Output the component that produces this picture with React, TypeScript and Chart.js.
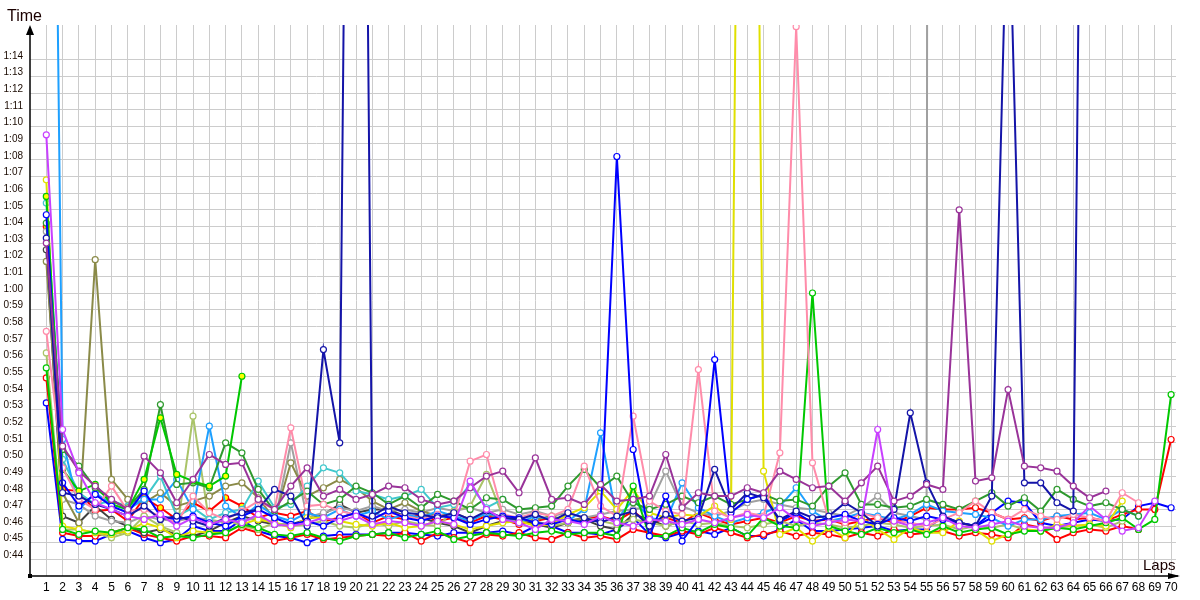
import React, { useEffect, useRef } from 'react';
import { Chart, registerables } from 'chart.js';

Chart.register(...registerables);

const LAPS = [1, 2, 3, 4, 5, 6, 7, 8, 9, 10, 11, 12, 13, 14, 15, 16, 17, 18, 19, 20, 21, 22, 23, 24, 25, 26, 27, 28, 29, 30, 31, 32, 33, 34, 35, 36, 37, 38, 39, 40, 41, 42, 43, 44, 45, 46, 47, 48, 49, 50, 51, 52, 53, 54, 55, 56, 57, 58, 59, 60, 61, 62, 63, 64, 65, 66, 67, 68, 69, 70];
const Y_TICKS = [44, 45, 46, 47, 48, 49, 50, 51, 52, 53, 54, 55, 56, 57, 58, 59, 60, 61, 62, 63, 64, 65, 66, 67, 68, 69, 70, 71, 72, 73, 74];

// lap times in seconds, lap 1 onwards
const RED_A = [64.0, 48.2, 48.1, 46.9, 47.0, 46.3, 47.7, 47.1, 46.4, 47.4,
  46.9, 47.7, 47.2, 46.5, 46.8, 46.6, 46.9, 46.3, 46.5, 46.8,
  46.2, 46.6, 46.4, 46.7, 46.3, 46.5, 46.2, 46.6, 46.4, 46.1,
  46.3, 46.5, 46.2, 46.4, 46.6, 46.3, 46.9, 46.1, 46.5, 46.2,
  46.8, 46.4, 46.1, 46.3, 46.5, 46.2, 46.6, 46.3, 46.4, 46.1,
  46.3, 46.5, 46.2, 46.6, 47.1, 47.0, 47.0, 47.1, 46.8, 46.4,
  46.5, 46.3, 46.6, 46.4, 46.5, 46.3, 46.7, 47.0, 47.0, 51.2];
const RED_B = [54.9, 45.6, 45.4, 45.4, 45.6, 45.9, 45.5, 45.3, 45.1, 45.4,
  45.4, 45.3, 45.9, 45.6, 45.1, 45.3, 45.5, 45.2, 45.3, 45.4,
  45.5, 45.4, 45.6, 45.1, 45.6, 45.3, 45.0, 45.5, 45.4, 45.6,
  45.3, 45.2, 45.6, 45.3, 45.4, 45.2, 45.8, 45.6, 45.4, 45.7,
  45.5, 45.9, 45.6, 45.3, 45.5, 45.7, 45.4, 45.6, 45.5, 45.3,
  45.6, 45.4, 45.8, 45.5, 45.6, 45.7, 45.4, 45.6, 45.5, 45.3,
  46.1, 45.9, 45.2, 45.6, 45.8, 45.7, 46.0, 45.8];
const GREEN_A = [65.8, 49.4, 48.1, 48.5, 47.3, 47.0, 48.8, 52.5, 49.1, 48.7, 48.4, 49.0, 55.0];
const GREEN_B = [55.5, 45.8, 45.5, 45.7, 45.6, 45.9, 45.8, 45.3, 45.4, 45.3,
  45.5, 45.6, 46.1, 45.9, 45.5, 45.4, 45.6, 45.3, 45.1, 45.4,
  45.5, 45.6, 45.3, 45.5, 45.7, 45.2, 45.4, 45.6, 45.5, 45.4,
  45.6, 45.7, 45.5, 45.6, 45.6, 45.4, 48.4, 45.4, 45.4, 45.9,
  45.6, 46.1, 45.9, 45.4, 46.5, 46.0, 45.9, 60.0, 46.0, 45.7,
  45.5, 45.9, 45.6, 45.8, 45.5, 46.0, 45.6, 45.8, 45.9, 45.5,
  45.7, 45.7, 45.9, 45.8, 46.0, 46.2, 46.5, 45.8, 46.4, 53.9];
const DARK_GREEN = [64.2, 50.6, 49.6, 48.3, 47.5, 47.1, 48.2, 53.3, 48.5, 48.6,
  48.3, 51.0, 50.4, 48.2, 46.9, 47.5, 48.1, 47.3, 47.6, 48.4,
  48.0, 47.3, 47.8, 47.1, 47.9, 47.5, 47.0, 47.7, 47.6, 47.0,
  47.1, 47.2, 48.4, 49.4, 48.3, 49.0, 47.4, 47.0, 47.3, 47.8,
  47.4, 47.8, 47.3, 47.6, 47.9, 47.5, 47.6, 47.2, 48.4, 49.2,
  47.3, 47.3, 47.1, 47.2, 47.6, 47.3, 47.0, 47.5, 48.0, 47.2,
  47.7, 46.9, 48.2, 47.6, 47.2, 47.4, 47.0, 46.6];
const BLUE_A = [53.4, 45.2, 45.1, 45.1, 45.5, 45.7, 45.3, 45.0, 45.2, 46.0,
  45.7, 45.7, 46.4, 45.7, 45.4, 45.3, 45.0, 45.4, 45.5, 45.5,
  45.5, 45.6, 45.6, 45.5, 45.4, 45.6, 45.6, 45.6, 45.7, 45.5,
  46.0, 46.0, 45.6, 45.6, 45.5, 45.8, 46.5, 45.5, 45.3, 45.6,
  45.7, 45.5, 45.9, 45.4, 45.4, 45.8, 46.4, 45.7, 45.7, 45.8,
  45.9, 46.0, 45.7, 45.8, 45.8, 46.6, 46.2, 46.0, 46.8, 47.5,
  47.4, 46.2, 46.0, 46.2, 46.4, 46.3, 46.4, 47.2, 47.4, 47.1];
const BLUE_B = [64.7, 48.6, 47.2, 47.9, 47.2, 46.8, 48.1, 46.6, 46.4, 46.6,
  46.2, 46.0, 46.6, 47.0, 46.5, 46.1, 46.3, 46.0, 46.5, 46.8,
  46.4, 46.9, 46.5, 46.3, 46.6, 46.5, 46.1, 46.4, 46.6, 46.5,
  46.2, 46.1, 46.4, 46.2, 46.4, 68.2, 50.6, 45.4, 47.8, 45.1,
  46.4, 56.0, 46.8, 47.6, 47.9, 46.3, 46.8, 46.2, 46.5, 46.7,
  46.3, 46.1, 46.5, 46.3, 46.6, 46.4, 46.2, 46.0, 46.5];
const NAVY = [63.3, 48.0, 47.8, 47.3, 47.0, 46.6, 47.2, 46.4, 46.6, 46.3,
  46.0, 46.5, 46.8, 47.0, 48.2, 47.8, 46.0, 56.6, 51.0, 157.0,
  46.6, 47.2, 46.8, 46.7, 46.5, 46.8, 46.4, 46.9, 46.5, 46.4,
  46.7, 46.3, 46.8, 46.5, 46.2, 46.6, 46.9, 46.0, 46.7, 46.3,
  46.5, 49.4, 47.0, 48.0, 47.7, 46.4, 46.9, 46.5, 46.6, 47.4,
  46.8, 46.0, 47.0, 52.8, 48.6, 46.6, 46.2, 46.0, 47.8, 86.0,
  48.6, 48.6, 47.4, 46.9, 142.0];
const LIGHT_BLUE = [136.0, 51.2, 47.0, 48.0, 47.3, 47.0, 47.6, 47.6, 48.8, 47.0,
  52.0, 47.2, 46.5, 47.3, 46.6, 46.3, 46.8, 46.5, 47.0, 46.6,
  46.9, 46.4, 46.7, 46.5, 46.9, 46.6, 46.3, 46.8, 46.5, 46.2,
  46.6, 46.4, 46.3, 47.0, 51.6, 46.4, 47.6, 46.5, 46.3, 48.6,
  47.1, 46.6, 46.2, 46.5, 46.8, 47.2, 48.3, 46.9, 46.3, 46.5,
  46.8, 46.6, 46.4, 46.7, 47.3, 46.9, 46.8, 46.7, 46.5, 46.0,
  46.4, 46.4, 46.6, 46.7, 46.8, 46.4, 47.0, 46.6];
const CYAN = [65.4, 50.0, 48.0, 47.3, 47.5, 47.2, 47.6, 49.0, 46.6, 47.1,
  46.4, 46.8, 47.0, 48.7, 47.1, 47.3, 48.4, 49.5, 49.2, 48.1,
  47.9, 47.6, 47.8, 48.2, 47.1, 47.3, 48.5, 47.1, 47.6];
const MAGENTA = [69.5, 51.8, 49.2, 47.4, 47.0, 46.6, 46.4, 46.7, 46.0, 46.5,
  46.1, 46.4, 46.2, 46.7, 46.1, 46.0, 46.2, 46.5, 46.3, 46.6,
  46.1, 46.3, 46.2, 46.0, 46.3, 46.1, 48.7, 47.0, 46.4, 46.2,
  45.8, 46.4, 46.3, 46.1, 46.6, 46.2, 46.0, 46.4, 46.3, 46.1,
  46.4, 46.2, 46.5, 46.7, 46.5, 47.1, 46.4, 46.0, 46.2, 46.4,
  46.3, 51.8, 46.3, 46.0, 46.2, 46.5, 46.0, 45.9, 46.1, 46.3,
  46.0, 45.9, 45.9, 46.2, 47.2, 46.4, 45.7, 45.9, 47.5];
const PURPLE = [63.0, 50.8, 49.3, 48.4, 47.6, 47.0, 50.2, 49.2, 47.4, 48.8,
  50.3, 49.7, 49.8, 47.6, 47.0, 48.4, 49.5, 47.8, 48.2, 47.6,
  47.9, 48.4, 48.3, 47.6, 47.3, 47.5, 48.3, 49.0, 49.3, 48.0,
  50.1, 47.6, 47.7, 47.3, 48.5, 47.5, 47.6, 47.8, 50.3, 47.1,
  48.0, 47.8, 47.8, 48.3, 48.0, 49.3, 48.8, 48.3, 48.4, 47.5,
  48.6, 49.6, 47.5, 47.8, 48.5, 48.2, 65.0, 48.7, 48.9, 54.2,
  49.6, 49.5, 49.3, 48.4, 47.7, 48.1];
const PINK = [57.7, 49.5, 47.6, 47.0, 48.4, 46.9, 47.0, 46.6, 46.2, 47.8,
  46.8, 46.4, 46.9, 47.5, 47.0, 51.9, 47.2, 47.3, 46.9, 46.7,
  46.5, 46.8, 46.6, 46.4, 46.7, 46.5, 49.9, 50.3, 46.7, 46.5,
  46.8, 46.6, 47.0, 49.6, 47.2, 46.6, 52.6, 47.5, 46.9, 46.7,
  55.4, 46.9, 46.5, 46.8, 46.6, 50.4, 76.0, 49.8, 46.4, 46.2,
  46.8, 46.5, 46.3, 46.2, 46.0, 46.4, 46.8, 47.5, 46.8, 46.4,
  47.0, 46.6, 46.4, 46.7, 46.5, 46.3, 48.0, 47.4];
const OLIVE = [61.9, 48.0, 46.2, 62.0, 48.8, 47.6, 47.4, 48.0, 47.2, 47.5,
  47.8, 48.4, 48.6, 47.7, 46.4, 49.8, 47.8, 48.3, 48.8, 48.3,
  47.5, 47.0, 47.4, 46.9, 46.6, 46.8, 46.4, 46.7, 46.5, 46.2,
  46.4, 46.6, 46.3, 46.5];
const LIGHT_OLIVE = [56.4, 45.8, 45.8, 45.6, 45.3, 45.6, 46.6, 46.0, 45.6, 52.6,
  46.2, 46.4, 46.0, 45.8, 46.2, 46.0, 46.1, 46.3, 46.0, 45.9,
  46.2, 46.0, 46.3, 46.1, 46.0, 46.9, 47.2, 49.1, 46.6, 46.4,
  46.3, 46.0, 46.2, 46.5, 46.3, 46.1, 46.4, 46.2, 46.0, 46.3,
  46.1, 46.2, 46.0, 45.9, 46.1, 46.3, 46.0, 46.2, 46.1, 45.9,
  46.0, 46.2, 46.1, 45.9, 46.0, 46.1, 45.8, 46.0, 45.9, 46.1,
  45.8, 45.7, 45.9, 46.0, 46.1, 45.9, 46.3];
const YELLOW = [66.8, 46.0, 45.8, 45.6, 45.5, 45.7, 46.2, 45.9, 45.3, 45.7,
  45.6, 45.6, 46.1, 46.4, 46.2, 45.9, 46.5, 46.5, 46.3, 46.1,
  46.0, 46.2, 45.9, 46.0, 46.3, 46.1, 45.8, 46.0, 46.2, 46.3,
  46.0, 46.1, 46.7, 47.1, 48.1, 47.0, 48.2, 46.8, 46.5, 46.7,
  46.6, 47.2, 46.4, 156.0, 49.3, 45.5, 45.9, 45.1, 45.9, 45.3,
  46.5, 45.8, 45.2, 45.9, 45.6, 45.6, 46.3, 45.8, 45.1, 45.5,
  45.8, 45.7, 46.1, 46.0, 46.1, 46.0, 47.5];
const GRAY = [63.7, 47.6, 47.3, 46.6, 46.3, 46.2, 46.6, 46.4, 46.3, 46.5,
  46.4, 46.2, 46.3, 46.5, 46.2, 51.0, 46.5, 46.8, 47.1, 46.9,
  47.2, 46.9, 47.0, 46.8, 47.1, 46.9, 47.1, 46.8, 47.0, 46.7,
  46.9, 46.6, 46.8, 46.5, 46.7, 46.9, 47.0, 47.2, 49.3, 47.2,
  46.8, 46.6, 46.9, 47.4, 47.6, 47.3, 47.1, 47.0, 46.8, 46.6,
  47.1, 47.8, 46.8, 46.6, 46.4, 999.0];
const DARK_GRAY = [62.6, 46.6, 46.2, 47.2, 46.4, 46.0, 45.6, 45.8, 45.5, 45.4,
  45.7, 46.2, 46.6, 46.3, 46.1, 46.1, 46.4, 46.7, 47.3, 46.8,
  47.0, 47.0, 46.6, 46.5, 46.2, 46.0, 45.6, 46.0, 46.3, 46.4,
  46.1, 45.9, 46.2, 46.4, 46.0, 45.8, 46.7, 46.4, 46.0, 46.3];

type Series = { name: string; color: string; values: number[]; yellowUntil?: number };

const SERIES: Series[] = [
  { name: 'Magenta', color: '#c840ff', values: MAGENTA },
  { name: 'Purple', color: '#993399', values: PURPLE },
  { name: 'Navy', color: '#1414a8', values: NAVY },
  { name: 'Blue B', color: '#0000ff', values: BLUE_B },
  { name: 'Pink', color: '#ff8caa', values: PINK },
  { name: 'Green A', color: '#00c800', values: GREEN_A, yellowUntil: 13 },
  { name: 'Green B', color: '#00c800', values: GREEN_B },
  { name: 'Dark green', color: '#2e9a2e', values: DARK_GREEN },
  { name: 'Yellow', color: '#e0e000', values: YELLOW },
  { name: 'Light blue', color: '#1ea0ff', values: LIGHT_BLUE },
  { name: 'Cyan', color: '#40c8cc', values: CYAN },
  { name: 'Olive', color: '#8a8a48', values: OLIVE },
  { name: 'Light olive', color: '#aac468', values: LIGHT_OLIVE },
  { name: 'Gray', color: '#a0a0a0', values: GRAY },
  { name: 'Dark gray', color: '#404040', values: DARK_GRAY },
  { name: 'Red A', color: '#ff0000', values: RED_A, yellowUntil: 13 },
  { name: 'Red B', color: '#ff0000', values: RED_B },
  { name: 'Blue A', color: '#0000ff', values: BLUE_A },
];

const fmt = (v: number) => `${Math.floor(v / 60)}:${String(Math.round(v % 60)).padStart(2, '0')}`;

const axisPlugin = {
  id: 'arrowAxes',
  afterDraw(chart: any) {
    const { ctx, chartArea } = chart;
    const x0 = chartArea.left;
    const y0 = chartArea.bottom;
    ctx.save();
    ctx.strokeStyle = '#000';
    ctx.fillStyle = '#000';
    ctx.lineWidth = 1.5;
    ctx.beginPath();
    ctx.moveTo(x0, y0);
    ctx.lineTo(x0, chartArea.top + 6);
    ctx.moveTo(x0, y0);
    ctx.lineTo(chartArea.right + 2, y0);
    ctx.stroke();
    // top arrow
    ctx.beginPath();
    ctx.moveTo(x0, chartArea.top);
    ctx.lineTo(x0 - 4, chartArea.top + 10);
    ctx.lineTo(x0 + 4, chartArea.top + 10);
    ctx.closePath();
    ctx.fill();
    // right arrow
    ctx.beginPath();
    ctx.moveTo(chartArea.right + 4, y0);
    ctx.lineTo(chartArea.right - 8, y0 - 3);
    ctx.lineTo(chartArea.right - 8, y0 + 3);
    ctx.closePath();
    ctx.fill();
    ctx.fillRect(x0 - 2, y0 - 2, 4, 4);
    // titles
    ctx.fillStyle = '#1a0000';
    ctx.textBaseline = 'alphabetic';
    ctx.textAlign = 'left';
    ctx.font = '16px "Liberation Sans", Arial, sans-serif';
    ctx.fillText('Time', 7, 21);
    ctx.font = '15px "Liberation Sans", Arial, sans-serif';
    ctx.fillText('Laps', 1143, 570);
    ctx.restore();
  },
};

export default function App() {
  const ref = useRef<HTMLCanvasElement>(null);
  useEffect(() => {
    if (!ref.current) return;
    const chart = new Chart(ref.current, {
      type: 'line',
      data: {
        datasets: SERIES.map((s) => ({
          label: s.name,
          data: s.values.map((v, i) => ({ x: LAPS[i], y: v })),
          borderColor: s.color,
          backgroundColor: s.color,
          pointBorderColor: s.color,
          pointBackgroundColor: s.values.map((_, i) =>
            s.yellowUntil && LAPS[i] <= s.yellowUntil ? '#ffff00' : '#ffffff'
          ),
          pointRadius: 3,
          pointBorderWidth: 1.2,
          borderWidth: 2,
          tension: 0,
          fill: false,
        })),
      },
      options: {
        animation: false,
        responsive: false,
        maintainAspectRatio: false,
        events: [],
        layout: { padding: { top: 25, right: 24, left: 0, bottom: 0 } },
        plugins: { legend: { display: false }, tooltip: { enabled: false } },
        scales: {
          x: {
            type: 'linear',
            min: 0,
            max: 70.3,
            afterBuildTicks: (scale: any) => {
              scale.ticks = LAPS.map((v) => ({ value: v }));
            },
            afterFit: (scale: any) => {
              scale.height = 24;
            },
            grid: { color: '#cccccc', lineWidth: 1, drawTicks: false },
            border: { display: false },
            ticks: {
              autoSkip: false,
              maxRotation: 0,
              padding: 4,
              color: '#000',
              font: { family: '"Liberation Sans", Arial, sans-serif', size: 12 },
              callback: (v: any) => String(v),
            },
          },
          y: {
            type: 'linear',
            min: 43,
            max: 76.1,
            afterBuildTicks: (scale: any) => {
              scale.ticks = Y_TICKS.map((v) => ({ value: v }));
            },
            afterFit: (scale: any) => {
              scale.width = 30;
            },
            grid: { color: '#cccccc', lineWidth: 1, drawTicks: false },
            border: { display: false },
            ticks: {
              padding: 7,
              labelOffset: -4,
              color: '#1a0a00',
              font: { family: '"Liberation Sans", Arial, sans-serif', size: 10 },
              callback: (v: any) => fmt(Number(v)),
            },
          },
        },
      },
      plugins: [axisPlugin],
    });
    return () => chart.destroy();
  }, []);
  return (
    <div style={{ position: 'fixed', left: 0, top: 0, width: 1200, height: 600, background: '#fff' }}>
      <canvas ref={ref} width={1200} height={600} style={{ width: 1200, height: 600, display: 'block' }} />
    </div>
  );
}
